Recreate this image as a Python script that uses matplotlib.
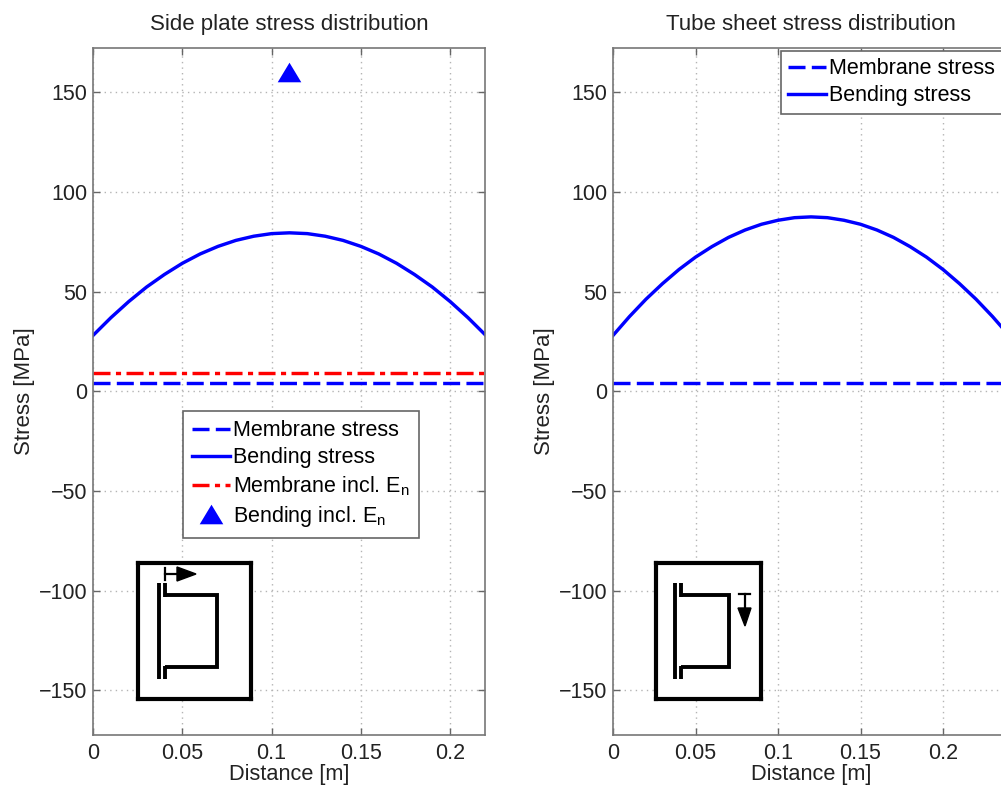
import numpy as np
import matplotlib
matplotlib.use('Agg')
from matplotlib import pyplot as plt
from matplotlib.patches import Polygon

plt.rcParams['font.family'] = ['Liberation Sans', 'DejaVu Sans']
plt.rcParams['mathtext.fontset'] = 'custom'
plt.rcParams['mathtext.rm'] = 'Liberation Sans'
plt.rcParams['mathtext.default'] = 'regular'

W, H = 1001, 788
LW = 2.45
DASH = (0, (5, 1.85))
DASHDOT = (0, (5, 1.6, 1.5, 1.6))
TRI = [(-1, -0.83), (1, -0.83), (0, 0.83), (-1, -0.83)]

# values
side_x = [0, 0.01, 0.02, 0.03, 0.04, 0.05, 0.06, 0.07, 0.08, 0.09, 0.10, 0.11,
          0.12, 0.13, 0.14, 0.15, 0.16, 0.17, 0.18, 0.19, 0.20, 0.21, 0.22]
side_bending = [28, 36.9, 45.0, 52.3, 58.6, 64.2, 68.9, 72.7, 75.7, 77.8, 79.1, 79.5,
                79.1, 77.8, 75.7, 72.7, 68.9, 64.2, 58.6, 52.3, 45.0, 36.9, 28]
side_membrane = [4.2] * len(side_x)
side_membrane_en = [9.2] * len(side_x)
bending_en_x = [0.11]
bending_en_y = [160]

tube_x = [0, 0.01, 0.02, 0.03, 0.04, 0.05, 0.06, 0.07, 0.08, 0.09, 0.10, 0.11, 0.12,
          0.13, 0.14, 0.15, 0.16, 0.17, 0.18, 0.19, 0.20, 0.21, 0.22, 0.23, 0.24]
tube_bending = [28, 37.5, 46.2, 54.0, 61.1, 67.3, 72.6, 77.2, 80.9, 83.8, 85.8, 87.1, 87.5,
                87.1, 85.8, 83.8, 80.9, 77.2, 72.6, 67.3, 61.1, 54.0, 46.2, 37.5, 28]
tube_membrane = [4.0] * len(tube_x)

xticks = [0, 0.05, 0.1, 0.15, 0.2]
xtick_labels = ['0', '0.05', '0.1', '0.15', '0.2']
yticks = [-150, -100, -50, 0, 50, 100, 150]
ytick_labels = ['\u2212150', '\u2212100', '\u221250', '0', '50', '100', '150']


def px_axes(fig, x0, y0, x1, y1):
    return fig.add_axes([x0 / W, 1 - y1 / H, (x1 - x0) / W, (y1 - y0) / H])


def style_axes(ax, title, xmax):
    ax.set_xlim(0, xmax)
    ax.set_ylim(-172.5, 172.5)
    ax.set_xticks(xticks)
    ax.set_xticklabels(xtick_labels)
    ax.set_yticks(yticks)
    ax.set_yticklabels(ytick_labels)
    ax.tick_params(direction='in', top=True, right=True, length=5, width=1.0,
                   color='#666666', labelsize=15.5, labelcolor='#222222')
    ax.tick_params(axis='x', pad=6)
    ax.tick_params(axis='y', pad=4)
    ax.grid(True, linestyle=(0, (1, 3)), color='#b4b4b4', linewidth=1.0)
    ax.set_axisbelow(True)
    for s in ax.spines.values():
        s.set_color('#777777')
        s.set_linewidth(1.2)
    ax.set_title(title, fontsize=16, color='#222222', pad=12.5)
    ax.set_xlabel('Distance [m]', fontsize=15.7, color='#222222', labelpad=0)
    ax.set_ylabel('Stress [MPa]', fontsize=16, color='#222222', labelpad=3)


def add_legend(ax, fig, x, y, pad):
    leg = ax.legend(loc='upper left', bbox_to_anchor=(x / W, 1 - y / H),
                    bbox_transform=fig.transFigure, fontsize=15.5, fancybox=False, framealpha=1,
                    edgecolor='#666666', borderaxespad=0, borderpad=pad, handlelength=1.75,
                    handletextpad=0.15, labelspacing=0.28)
    leg.get_frame().set_linewidth(1.2)
    return leg


def draw_icon(fig, box, side):
    # icon axes use figure pixels so the sketch lines up with the picture
    x0, y0, x1, y1 = box
    ic = px_axes(fig, x0, y0, x1, y1)
    ic.set_xlim(x0, x1)
    ic.set_ylim(y1, y0)
    ic.set_xticks([])
    ic.set_yticks([])
    for s in ic.spines.values():
        s.set_linewidth(3.0)
        s.set_color('black')
    ic.set_zorder(5)
    bar, stub, right = (x0 + 21, x0 + 27, x0 + 79) if side else (x0 + 19, x0 + 25, x0 + 73)
    kw = dict(color='black', linewidth=2.8, solid_capstyle='butt')
    ic.plot([bar, bar], [583, 679], **kw)
    ic.plot([stub, stub], [583, 597], **kw)
    ic.plot([stub, stub], [666, 679], **kw)
    ic.plot([stub, right, right, stub], [595, 595, 667, 667], solid_joinstyle='miter', **kw)
    if side:
        ic.plot([165, 165], [568, 580], color='black', linewidth=1.6)
        ic.plot([165, 180], [574, 574], color='black', linewidth=1.6)
        ic.add_patch(Polygon([[177, 567], [196, 574], [177, 581]], color='black'))
    else:
        ic.plot([739, 750], [594, 594], color='black', linewidth=1.6)
        ic.plot([745, 745], [594, 610], color='black', linewidth=1.6)
        ic.add_patch(Polygon([[738, 608], [751, 608], [745, 626]], color='black'))


def main():
    fig = plt.figure(figsize=(W / 100, H / 100), dpi=100)

    ax1 = px_axes(fig, 93, 47.5, 485, 735)
    ax1.plot(side_x, side_membrane, color='#0000ff', linestyle=DASH, linewidth=LW,
             label='Membrane stress')
    ax1.plot(side_x, side_bending, color='#0000ff', linewidth=LW, label='Bending stress')
    ax1.plot(side_x, side_membrane_en, color='#ff0000', linestyle=DASHDOT, linewidth=LW,
             label='Membrane incl. E$_{n}$')
    ax1.plot(bending_en_x, bending_en_y, marker=TRI, color='#0000ff', markersize=17,
             markeredgewidth=0, linestyle='none', label='Bending incl. E$_{n}$')
    style_axes(ax1, 'Side plate stress distribution', 0.2195)
    add_legend(ax1, fig, 183, 411, 0.42)

    # the right axes run past the edge of the picture, as in the original
    ax2 = px_axes(fig, 613, 47.5, 1009, 735)
    ax2.plot(tube_x, tube_membrane, color='#0000ff', linestyle=DASH, linewidth=LW,
             label='Membrane stress')
    ax2.plot(tube_x, tube_bending, color='#0000ff', linewidth=LW, label='Bending stress')
    style_axes(ax2, 'Tube sheet stress distribution', 0.24)
    add_legend(ax2, fig, 781, 51, 0.34)

    draw_icon(fig, (138, 563, 251, 699), True)
    draw_icon(fig, (656, 563, 761, 699), False)

    fig.savefig('out.png', dpi=100)


if __name__ == "__main__":
    main()
